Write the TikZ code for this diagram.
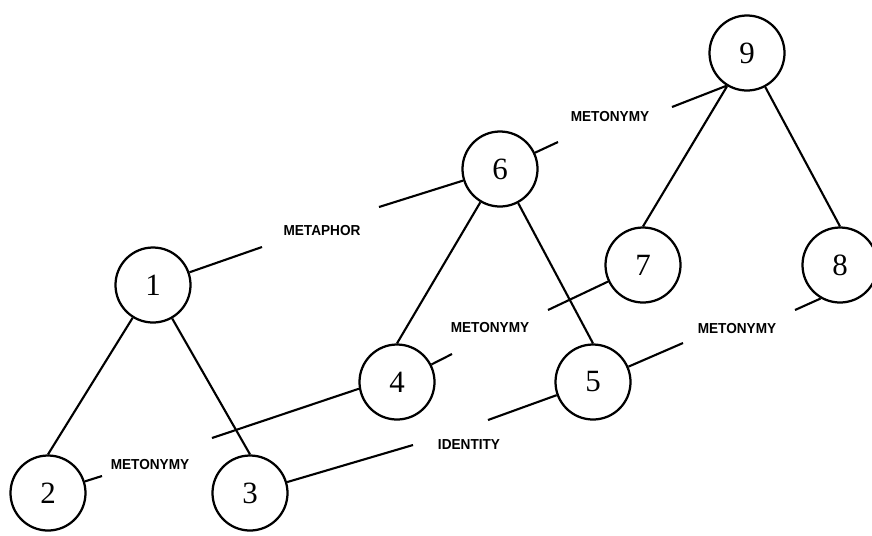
\documentclass[tikz,border=0pt]{standalone}
\usepackage{fontspec}
\newfontfamily\numfont{Liberation Serif}
\newfontfamily\relfont[FakeStretch=0.94]{Liberation Sans}

\begin{document}
\begin{tikzpicture}[x=0.025cm,y=-0.025cm,
    unit/.style={circle, draw, line width=1.6pt, minimum size=1.875cm, inner sep=0pt, font=\numfont\fontsize{22}{24}\selectfont},
    rel/.style={inner sep=0pt, font=\relfont\bfseries\fontsize{10.3}{12}\selectfont},
    link/.style={line width=1.5pt}]
    \useasboundingbox (0,0) rectangle (872,535);

    %left tree
    \node [unit] (n1) at (153,285) {1};
    \node [unit] (n2) at (48,493) {2};
    \node [unit] (n3) at (250,493) {3};
    \draw [link] (n1) -- (n2.north);
    \draw [link] (n1) -- (n3.north);
    %middle tree
    \node [unit] (n6) at (500,169) {6};
    \node [unit] (n4) at (397,382) {4};
    \node [unit] (n5) at (593,382) {5};
    \draw [link] (n6) -- (n4.north);
    \draw [link] (n6) -- (n5.north);
    %right tree
    \node [unit] (n9) at (747,53) {9};
    \node [unit] (n7) at (643,265) {7};
    \node [unit] (n8) at (840,265) {8};
    \draw [link] (n9) -- (n7.north);
    \draw [link] (n9) -- (n8.north);

    %1 -> 6
    \coordinate (a16) at (262,247);
    \coordinate (b16) at (379,207);
    \node [rel] (r16) at (322,231) {METAPHOR};
    \draw [link] (n1) -- (a16);
    \draw [link] (b16) -- (n6);
    %6 -> 9
    \coordinate (a69) at (558,142);
    \coordinate (b69) at (672,107);
    \node [rel] (r69) at (610,117) {METONYMY};
    \draw [link] (n6) -- (a69);
    \draw [link] (b69) -- (n9.238);
    %2 -> 4
    \coordinate (a24) at (102,476);
    \coordinate (b24) at (212,438);
    \node [rel] (r24) at (150,464) {METONYMY};
    \draw [link] (n2) -- (a24);
    \draw [link] (b24) -- (n4.190);
    %3 -> 5
    \coordinate (a35) at (413,445);
    \coordinate (b35) at (488,420);
    \node [rel] (r35) at (469,445) {IDENTITY};
    \draw [link] (n3) -- (a35);
    \draw [link] (b35) -- (n5);
    %4 -> 7
    \coordinate (a47) at (452,354);
    \coordinate (b47) at (548,310);
    \node [rel] (r47) at (490,328) {METONYMY};
    \draw [link] (n4) -- (a47);
    \draw [link] (b47) -- (n7);
    %5 -> 8
    \coordinate (a58) at (683,343);
    \coordinate (b58) at (795,310);
    \node [rel] (r58) at (737,329) {METONYMY};
    \draw [link] (n5) -- (a58);
    \draw [link] (b58) -- (n8.240);
\end{tikzpicture}
\end{document}
